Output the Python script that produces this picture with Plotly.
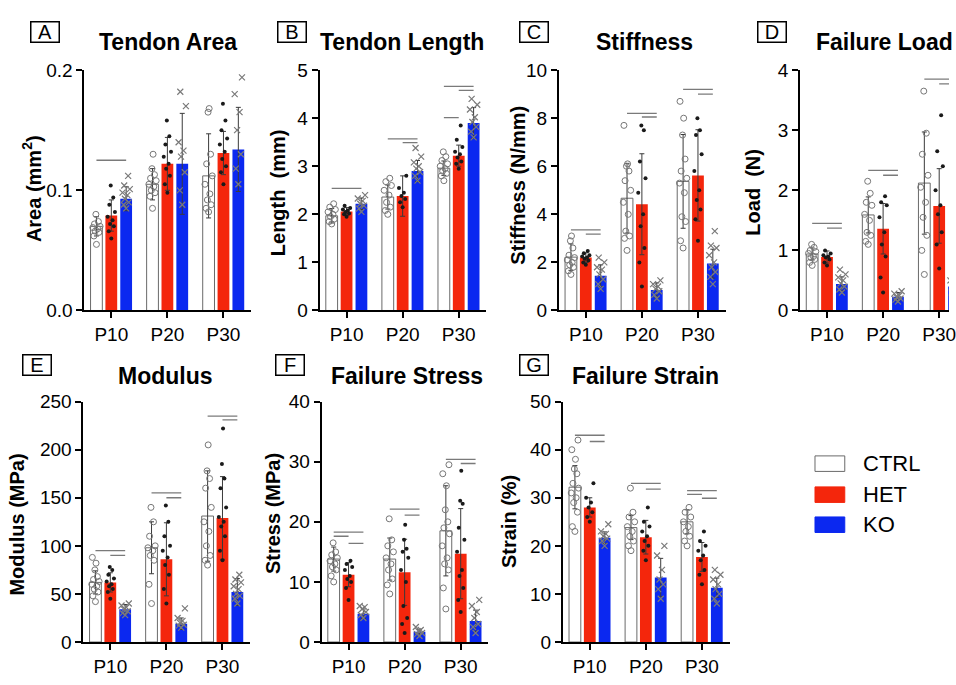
import plotly.graph_objects as go

# ---------------- data ----------------
groups = ["P10", "P20", "P30"]
genotypes = ["CTRL", "HET", "KO"]

# Tendon area (mm^2): rows = CTRL, HET, KO ; cols = P10, P20, P30
area_mean = [[0.070, 0.105, 0.112], [0.079, 0.122, 0.131], [0.093, 0.122, 0.134]]
area_sd = [[0.008, 0.013, 0.035], [0.013, 0.022, 0.018], [0.010, 0.042, 0.035]]
area_ctrl = [[0.055, 0.062, 0.065, 0.066, 0.068, 0.069, 0.070, 0.072, 0.074, 0.080],
             [0.085, 0.095, 0.098, 0.100, 0.103, 0.105, 0.108, 0.110, 0.113, 0.118, 0.130],
             [0.082, 0.085, 0.088, 0.092, 0.097, 0.105, 0.112, 0.122, 0.130, 0.165, 0.168]]
area_het = [[0.060, 0.066, 0.070, 0.072, 0.075, 0.078, 0.082, 0.088, 0.094, 0.104],
            [0.098, 0.105, 0.112, 0.118, 0.122, 0.128, 0.132, 0.138, 0.145, 0.158],
            [0.105, 0.115, 0.120, 0.126, 0.132, 0.138, 0.143, 0.150, 0.158, 0.172]]
area_ko = [[0.085, 0.088, 0.090, 0.093, 0.096, 0.098, 0.101, 0.104, 0.112],
           [0.088, 0.100, 0.115, 0.128, 0.133, 0.140, 0.170, 0.182],
           [0.105, 0.118, 0.130, 0.150, 0.165, 0.180, 0.194]]
area_sig = [(0, 0, 2, 0.125)]

# Tendon length (mm)
length_mean = [[1.97, 2.36, 2.96], [2.06, 2.38, 3.22], [2.22, 2.90, 3.90]]
length_sd = [[0.15, 0.25, 0.15], [0.08, 0.42, 0.22], [0.12, 0.22, 0.32]]
length_ctrl = [[1.80, 1.85, 1.90, 1.95, 2.00, 2.05, 2.10, 2.15, 2.22],
               [2.00, 2.08, 2.15, 2.25, 2.40, 2.50, 2.60, 2.68, 2.75],
               [2.70, 2.80, 2.85, 2.90, 2.95, 3.00, 3.05, 3.12, 3.20, 3.30]]
length_het = [[1.95, 2.00, 2.02, 2.05, 2.08, 2.10, 2.13, 2.18],
              [2.15, 2.25, 2.32, 2.38, 2.45, 2.55, 2.80],
              [2.95, 3.05, 3.10, 3.18, 3.25, 3.30, 3.40, 3.55, 3.85]]
length_ko = [[2.05, 2.12, 2.18, 2.22, 2.28, 2.33, 2.40],
             [2.70, 2.80, 2.88, 2.95, 3.00, 3.08, 3.20, 3.38],
             [3.60, 3.72, 3.82, 3.92, 4.02, 4.18, 4.28, 4.40]]
length_sig = [(0, 0, 2, 2.54), (1, 0, 2, 3.57), (1, 1, 2, 3.49),
              (2, 0, 2, 4.66), (2, 1, 2, 4.58), (2, 0, 1, 4.01)]

# Stiffness (N/mm)
stiff_mean = [[2.22, 4.67, 5.37], [2.20, 4.42, 5.62], [1.45, 0.85, 1.95]]
stiff_sd = [[0.55, 1.45, 1.95], [0.20, 2.10, 1.90], [0.45, 0.30, 0.60]]
stiff_ctrl = [[1.5, 1.65, 1.8, 1.9, 2.0, 2.1, 2.2, 2.3, 2.6, 2.9, 3.1],
              [2.5, 3.0, 3.1, 3.3, 4.0, 4.5, 5.0, 5.4, 5.8, 6.0, 6.1, 7.7],
              [2.6, 2.9, 3.7, 3.9, 4.9, 5.3, 5.5, 5.8, 6.3, 7.3, 8.0, 8.7]]
stiff_het = [[1.9, 2.0, 2.08, 2.15, 2.2, 2.25, 2.3, 2.38, 2.48],
             [1.0, 2.0, 2.6, 3.5, 4.0, 4.9, 5.5, 6.2, 7.5, 7.7],
             [2.9, 3.8, 4.2, 4.6, 5.0, 5.8, 6.5, 7.3, 7.5, 8.0]]
stiff_ko = [[0.9, 1.1, 1.3, 1.5, 1.7, 1.8, 2.0, 2.2],
            [0.5, 0.65, 0.8, 0.9, 1.0, 1.1, 1.25],
            [1.1, 1.4, 1.6, 1.8, 2.0, 2.3, 2.6, 2.7, 3.3]]
stiff_sig = [(0, 0, 2, 3.35), (0, 1, 2, 3.18), (1, 0, 2, 8.2), (1, 1, 2, 8.05),
             (2, 0, 2, 9.2), (2, 1, 2, 9.0)]

# Failure load (N)
load_mean = [[0.94, 1.59, 2.12], [0.89, 1.36, 1.74], [0.44, 0.23, 0.40]]
load_sd = [[0.10, 0.30, 0.85], [0.10, 0.42, 0.62], [0.12, 0.07, 0.10]]
load_ctrl = [[0.75, 0.80, 0.85, 0.88, 0.90, 0.95, 0.98, 1.00, 1.05, 1.10],
             [1.10, 1.15, 1.25, 1.30, 1.50, 1.60, 1.75, 1.80, 1.95, 2.15],
             [0.60, 1.00, 1.25, 1.55, 1.80, 2.05, 2.25, 2.60, 2.95, 3.65]]
load_het = [[0.75, 0.80, 0.85, 0.88, 0.90, 0.92, 0.95, 1.00],
            [0.30, 0.55, 0.90, 1.10, 1.30, 1.55, 1.75, 1.80, 1.90],
            [0.70, 1.10, 1.30, 1.60, 1.75, 2.00, 2.40, 2.65, 3.25]]
load_ko = [[0.30, 0.35, 0.40, 0.45, 0.50, 0.55, 0.60, 0.68],
           [0.15, 0.18, 0.20, 0.22, 0.25, 0.28, 0.32],
           [0.25, 0.30, 0.35, 0.40, 0.45, 0.50]]
load_sig = [(0, 0, 2, 1.45), (0, 1, 2, 1.37), (1, 0, 2, 2.33), (1, 1, 2, 2.25),
            (2, 0, 2, 3.85), (2, 1, 2, 3.77)]

# Modulus (MPa)
mod_mean = [[62, 98, 131], [62, 86, 129], [34, 19, 52]]
mod_sd = [[12, 27, 47], [10, 38, 43], [5, 6, 14]]
mod_ctrl = [[42, 48, 52, 55, 58, 60, 63, 65, 68, 75, 82, 88],
            [40, 60, 85, 90, 95, 98, 100, 110, 125, 140],
            [80, 85, 90, 100, 115, 125, 140, 160, 170, 178, 205]]
mod_het = [[45, 52, 55, 58, 60, 63, 66, 70, 75, 78],
           [40, 55, 70, 80, 88, 95, 100, 110, 125, 142],
           [85, 95, 110, 120, 125, 130, 140, 160, 170, 185, 222]]
mod_ko = [[28, 30, 32, 34, 36, 38, 40],
          [15, 17, 18, 20, 22, 25, 35],
          [40, 45, 48, 50, 55, 58, 62, 65, 70]]
mod_sig = [(0, 0, 2, 95), (0, 1, 2, 90), (1, 0, 2, 155), (1, 1, 2, 150),
           (2, 0, 2, 235), (2, 1, 2, 231)]

# Failure stress (MPa)
stress_mean = [[13.8, 13.8, 18.5], [11.2, 11.6, 14.7], [4.7, 1.7, 3.5]]
stress_sd = [[2.0, 3.5, 7.5], [2.0, 5.5, 7.5], [0.8, 0.4, 1.8]]
stress_ctrl = [[10, 11, 12, 12.5, 13, 13.5, 14, 14.5, 15, 16.5],
               [8, 9.5, 10.5, 12, 13, 14, 15, 16, 17, 20.5],
               [5.5, 9, 12, 13, 14, 16, 18, 19, 20, 22, 26, 28, 29.5]]
stress_het = [[7, 9, 10, 10.5, 11, 12, 12.5, 13, 13.5],
              [1.5, 3, 4, 6, 10, 12, 14, 15, 15.5, 17, 19.5],
              [5, 7, 9, 11, 12, 15, 17, 19, 23, 23.5, 28.5]]
stress_ko = [[4, 4.5, 5, 5.5, 5.8, 6],
             [1, 1.3, 1.5, 1.8, 2, 2.5],
             [1.5, 2.5, 3, 4, 5, 6, 7]]
stress_sig = [(0, 0, 2, 18.3), (0, 0, 1, 17.6), (0, 1, 2, 16.4), (1, 0, 2, 22.1),
              (1, 1, 2, 21.1), (2, 0, 2, 30.4), (2, 1, 2, 29.7)]

# Failure strain (%)
strain_mean = [[32.2, 23.8, 25.0], [28.0, 21.8, 17.7], [21.7, 13.4, 11.3]]
strain_sd = [[4.5, 2.5, 2.5], [2.0, 3.5, 3.0], [1.2, 4.0, 2.0]]
strain_ctrl = [[23, 24, 27, 29, 30, 31, 32, 33, 35, 36, 38, 40, 42],
               [19, 20, 21, 22, 23, 24, 25, 26, 27, 32],
               [20, 21, 22, 23, 24, 25, 26, 27, 28]]
strain_het = [[25, 26, 27, 28, 29, 30, 33],
              [17, 19, 20, 21, 22, 23, 24, 25, 28],
              [12, 14, 15, 17, 18, 19, 20, 21, 23]]
strain_ko = [[20, 21, 21.5, 22, 22.5, 23, 24.5],
             [9, 11, 12, 13, 15, 18, 20],
             [8, 9, 10, 11, 12, 13, 14, 15]]
strain_sig = [(0, 0, 2, 43.0), (0, 1, 2, 41.7), (1, 0, 2, 33.0), (1, 1, 2, 31.8),
              (2, 0, 2, 31.5), (2, 0, 1, 30.7), (2, 1, 2, 29.9)]

# ---------------- styling / layout ----------------
W, H = 956, 685
FONT = "Liberation Sans, Arial, Helvetica, sans-serif"
RED = "#F4260C"
BLUE = "#0B28F0"
fills = ["#FFFFFF", RED, BLUE]
outlines = ["#6A6A6A", RED, BLUE]
offsets = [-0.265, 0.0, 0.265]
bar_w = 0.21
jitter = [0.0, -0.045, 0.045, -0.022, 0.022, -0.065, 0.065, -0.035, 0.035, -0.01, 0.01, -0.055, 0.055]
pt_styles = [dict(symbol="circle-open", size=6, color="#777777", line=dict(width=1, color="#777777")),
             dict(symbol="circle", size=4, color="#1A1A1A"),
             dict(symbol="x-thin-open", size=6, color="#7A7A7A", line=dict(width=1.2, color="#7A7A7A"))]


def px(x):
    return x / W


def py(y):
    return 1 - y / H


panels = [
    dict(letter="A", title="Tendon Area", ytitle="Area (mm<sup>2</sup>)", mean=area_mean, sd=area_sd,
         pts=[area_ctrl, area_het, area_ko], sig=area_sig, ymax=0.2, dtick=0.1, fmt=".1f",
         ax=85, row=0, box=45.5, tx=169, tanchor="center", ytx=32, ytyc=184),
    dict(letter="B", title="Tendon Length", ytitle="Length  (mm)", mean=length_mean, sd=length_sd,
         pts=[length_ctrl, length_het, length_ko], sig=length_sig, ymax=5, dtick=1, fmt="d",
         ax=322, row=0, box=294.5, tx=405, tanchor="center", ytx=280, ytyc=188),
    dict(letter="C", title="Stiffness", ytitle="Stiffness (N/mm)", mean=stiff_mean, sd=stiff_sd,
         pts=[stiff_ctrl, stiff_het, stiff_ko], sig=stiff_sig, ymax=10, dtick=2, fmt="d",
         ax=563, row=0, box=538, tx=649, tanchor="center", ytx=522, ytyc=181),
    dict(letter="D", title="Failure Load", ytitle="Load  (N)", mean=load_mean, sd=load_sd,
         pts=[load_ctrl, load_het, load_ko], sig=load_sig, ymax=4, dtick=1, fmt="d",
         ax=806, row=0, box=777.5, tx=820, tanchor="left", ytx=759, ytyc=188),
    dict(letter="E", title="Modulus", ytitle="Modulus (MPa)", mean=mod_mean, sd=mod_sd,
         pts=[mod_ctrl, mod_het, mod_ko], sig=mod_sig, ymax=250, dtick=50, fmt="d",
         ax=84, row=1, box=37, tx=167, tanchor="center", ytx=17, ytyc=531),
    dict(letter="F", title="Failure Stress", ytitle="Stress (MPa)", mean=stress_mean, sd=stress_sd,
         pts=[stress_ctrl, stress_het, stress_ko], sig=stress_sig, ymax=40, dtick=10, fmt="d",
         ax=324, row=1, box=292.5, tx=410, tanchor="center", ytx=275, ytyc=519),
    dict(letter="G", title="Failure Strain", ytitle="Strain (%)", mean=strain_mean, sd=strain_sd,
         pts=[strain_ctrl, strain_het, strain_ko], sig=strain_sig, ymax=50, dtick=10, fmt="d",
         ax=567, row=1, box=537.5, tx=650, tanchor="center", ytx=513, ytyc=528),
]

row_y = [(310, 62), (652, 404)]
row_box_y = [22.5, 366]
row_title_y = [33, 378]
UNIT = 56.5           # pixels per group
PANEL_W = 168         # pixels of x-axis length
XMIN = -0.48

fig = go.Figure()
annotations = []
shapes = []

for i, p in enumerate(panels):
    n = "" if i == 0 else str(i + 1)
    xa, ya = "x" + n, "y" + n
    x0 = p["ax"]
    x1 = min(W, x0 + PANEL_W)
    xmax = XMIN + (x1 - x0) / UNIT
    yb, yt = row_y[p["row"]]

    # bars with SD error bars
    for gi in range(3):
        fig.add_trace(go.Bar(
            x=[g + offsets[gi] for g in range(len(groups))], y=p["mean"][gi], width=bar_w,
            marker=dict(color=fills[gi], line=dict(color=outlines[gi], width=1 if gi == 0 else 0)),
            error_y=dict(type="data", array=p["sd"][gi], visible=True, color="#3A3A3A",
                         thickness=1, width=2.5),
            xaxis=xa, yaxis=ya, showlegend=False, hoverinfo="skip"))
    # individual points
    for gi in range(3):
        xs, ys = [], []
        for g in range(len(groups)):
            vals = p["pts"][gi][g]
            for k, v in enumerate(vals):
                xs.append(g + offsets[gi] + jitter[k % len(jitter)])
                ys.append(v)
        fig.add_trace(go.Scatter(x=xs, y=ys, mode="markers", marker=pt_styles[gi],
                                 xaxis=xa, yaxis=ya, showlegend=False, hoverinfo="skip",
                                 cliponaxis=True))
    # significance lines
    for (g, a, b, yv) in p["sig"]:
        fig.add_trace(go.Scatter(x=[g + offsets[a], g + offsets[b]], y=[yv, yv], mode="lines",
                                 line=dict(color="#7A7A7A", width=1.3),
                                 xaxis=xa, yaxis=ya, showlegend=False, hoverinfo="skip"))

    axis_common = dict(showline=True, linecolor="black", linewidth=2, ticks="outside",
                       ticklen=6, tickwidth=2, tickcolor="black", showgrid=False,
                       zeroline=False, fixedrange=True, ticklabeloverflow="allow",
                       tickfont=dict(family=FONT, size=19, color="black"))
    fig.update_layout(**{
        ("xaxis" + n): dict(domain=[px(x0), px(x1)], range=[XMIN, xmax], anchor=ya,
                            tickvals=list(range(len(groups))), ticktext=groups, **axis_common),
        ("yaxis" + n): dict(domain=[py(yb), py(yt)], range=[0, p["ymax"]], anchor=xa,
                            dtick=p["dtick"], tick0=0, tickformat=p["fmt"], **axis_common),
    })

    # panel letter box
    annotations.append(dict(xref="paper", yref="paper", x=px(p["box"]), y=py(row_box_y[p["row"]]),
                            text=p["letter"], showarrow=False, xanchor="center", yanchor="middle",
                            font=dict(family=FONT, size=20, color="black"),
                            bordercolor="black", borderwidth=1.5, borderpad=0, width=27, height=19))
    # title
    annotations.append(dict(xref="paper", yref="paper", x=px(p["tx"]), y=py(row_title_y[p["row"]]),
                            text="<b>" + p["title"] + "</b>", showarrow=False,
                            xanchor=p["tanchor"], yanchor="middle",
                            font=dict(family=FONT, size=23, color="black")))
    # y-axis title
    annotations.append(dict(xref="paper", yref="paper", x=px(p["ytx"]), y=py(p["ytyc"]),
                            text="<b>" + p["ytitle"] + "</b>", showarrow=False, textangle=-90,
                            xanchor="center", yanchor="middle",
                            font=dict(family=FONT, size=20, color="black")))

# legend (custom swatches)
leg_y = [468, 500, 531]
for gi, name in enumerate(genotypes):
    shapes.append(dict(type="rect", xref="paper", yref="paper",
                       x0=px(821), x1=px(851), y0=py(leg_y[gi] + 8), y1=py(leg_y[gi] - 8),
                       fillcolor=fills[gi], line=dict(color=outlines[gi] if gi else "#6A6A6A", width=1)))
    annotations.append(dict(xref="paper", yref="paper", x=px(867), y=py(leg_y[gi]), text=name,
                            showarrow=False, xanchor="left", yanchor="middle",
                            font=dict(family=FONT, size=22, color="black")))

fig.update_layout(width=W, height=H, margin=dict(l=0, r=0, t=0, b=0),
                  paper_bgcolor="white", plot_bgcolor="rgba(0,0,0,0)",
                  showlegend=False, barmode="overlay", hovermode=False,
                  annotations=annotations, shapes=shapes,
                  font=dict(family=FONT, color="black"))

fig.write_html("out.html", config={"displayModeBar": False, "staticPlot": True},
               post_script="document.body.style.margin='0px';document.body.style.overflow='hidden';")
